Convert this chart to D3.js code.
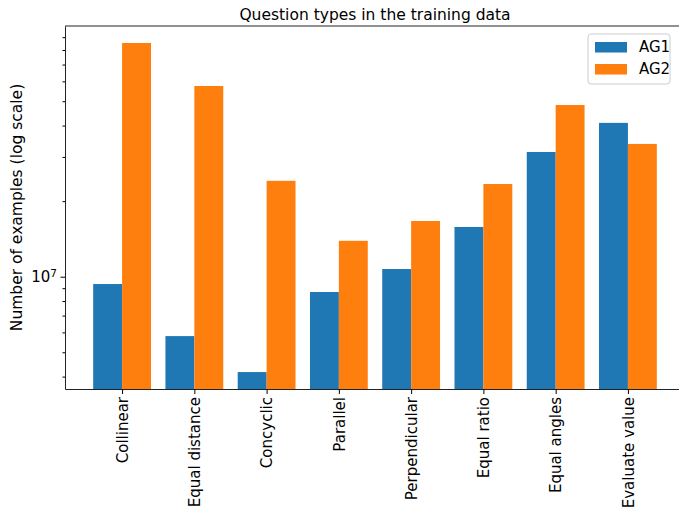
<!DOCTYPE html>
<html>
<head>
<meta charset="utf-8">
<script src="https://cdn.jsdelivr.net/npm/d3@7"></script>
<style>
  body { margin: 0; background: #fff; }
  svg { font-family: "DejaVu Sans", sans-serif; }
</style>
</head>
<body>
<div id="chart"></div>
<script>
let width = 679;
let height = 512;
let margin = ({top: 26, right: -6, bottom: 123, left: 65});
let font = "DejaVu Sans, sans-serif";

let categories = ["Collinear", "Equal distance", "Concyclic", "Parallel", "Perpendicular", "Equal ratio", "Equal angles", "Evaluate value"];
let ag1 = [9.35e6, 5.8e6, 4.17e6, 8.69e6, 1.073e7, 1.578e7, 3.14e7, 4.1e7];
let ag2 = [8.53e7, 5.75e7, 2.41e7, 1.39e7, 1.667e7, 2.34e7, 4.83e7, 3.38e7];
let seriesNames = ["AG1", "AG2"];
let colors = ["#1f77b4", "#ff7f0e"];
let majorTicks = [1e7];
let minorTicks = [4e6, 5e6, 6e6, 7e6, 8e6, 9e6, 2e7, 3e7, 4e7, 5e7, 6e7, 7e7, 8e7, 9e7];

let x = d3.scaleLinear()
    .domain([-0.79, categories.length - 1 + 0.79])
    .range([margin.left, width - margin.right]);
let y = d3.scaleLog()
    .domain([3.57e6, 9.97e7])
    .range([height - margin.bottom, margin.top]);

let svg = d3.select("#chart").append("svg")
    .attr("width", width)
    .attr("height", height);

svg.append("defs").append("clipPath").attr("id", "plot")
    .append("rect")
    .attr("x", margin.left).attr("y", margin.top)
    .attr("width", x.range()[1] - margin.left)
    .attr("height", y.range()[0] - margin.top);

let barW = 0.4;
let bars = svg.append("g").attr("clip-path", "url(#plot)");
[ag1, ag2].forEach((vals, s) => {
    bars.append("g")
        .attr("fill", colors[s])
        .selectAll("rect")
        .data(vals)
        .join("rect")
        .attr("x", (d, i) => x(i - barW + s * barW))
        .attr("width", x(barW) - x(0))
        .attr("y", d => y(d))
        .attr("height", d => y.range()[0] - y(d));
});

// x axis
let xAxis = svg.append("g")
    .attr("transform", `translate(0,${y.range()[0]})`)
    .call(d3.axisBottom(x).tickValues(d3.range(categories.length)).tickFormat(i => categories[i]).tickSize(5).tickSizeOuter(0))
    .attr("font-family", font);
xAxis.select(".domain").attr("stroke", "#222");
xAxis.selectAll("text")
    .attr("font-size", 15)
    .attr("fill", "#000")
    .attr("transform", "rotate(-90)")
    .attr("text-anchor", "end")
    .attr("x", -8)
    .attr("y", 0)
    .attr("dy", "0.35em");

// y axis
let yAxis = svg.append("g")
    .attr("transform", `translate(${margin.left},0)`)
    .call(d3.axisLeft(y).tickValues(majorTicks).tickFormat(() => "10").tickSize(4.5).tickSizeOuter(0))
    .attr("font-family", font);
yAxis.select(".domain").attr("stroke", "#222");
yAxis.selectAll("text")
    .attr("font-size", 15)
    .attr("fill", "#000")
    .append("tspan")
    .attr("dy", "-0.45em")
    .attr("font-size", 10.5)
    .text("7");
yAxis.selectAll("text").attr("x", -8);

svg.append("g")
    .attr("transform", `translate(${margin.left},0)`)
    .call(d3.axisLeft(y).tickValues(minorTicks).tickFormat("").tickSize(2.5).tickSizeOuter(0))
    .call(g => g.select(".domain").remove());

// top spine
svg.append("line")
    .attr("x1", margin.left).attr("x2", width)
    .attr("y1", margin.top).attr("y2", margin.top)
    .attr("stroke", "#222");

// title + label
svg.append("text")
    .attr("x", (margin.left + x.range()[1]) / 2)
    .attr("y", 20)
    .attr("text-anchor", "middle")
    .attr("font-size", 15.5)
    .text("Question types in the training data");

svg.append("text")
    .attr("transform", `translate(17,${(margin.top + y.range()[0]) / 2}) rotate(-90)`)
    .attr("text-anchor", "middle")
    .attr("dy", "0.35em")
    .attr("font-size", 15.5)
    .text("Number of examples (log scale)");

// legend
let legend = svg.append("g").attr("transform", "translate(588,34)");
legend.append("rect")
    .attr("width", 82).attr("height", 50)
    .attr("rx", 3)
    .attr("fill", "#fff").attr("fill-opacity", 0.8)
    .attr("stroke", "#ccc");
seriesNames.forEach((name, i) => {
    legend.append("rect")
        .attr("x", 7).attr("y", 8 + i * 22)
        .attr("width", 32).attr("height", 10.5)
        .attr("fill", colors[i]);
    legend.append("text")
        .attr("x", 51).attr("y", 13 + i * 22)
        .attr("dy", "0.35em")
        .attr("font-size", 15)
        .text(name);
});
</script>
</body>
</html>
